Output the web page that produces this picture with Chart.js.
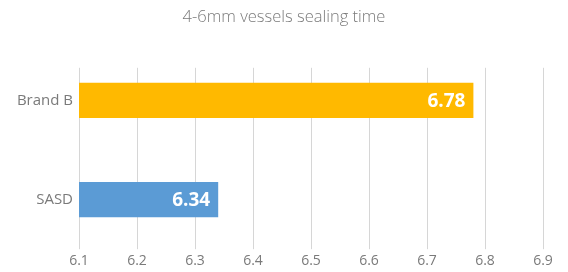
<!DOCTYPE html>
<html>
<head>
<meta charset="utf-8">
<script src="https://cdn.jsdelivr.net/npm/chart.js@4"></script>
<style>
  html, body { margin: 0; padding: 0; background: #fff; }
  #wrap { width: 568px; height: 272px; }
</style>
</head>
<body>
<div id="wrap"><canvas id="chart"></canvas></div>
<script>
const categories = ['Brand B', 'SASD'];
const sealingTimes = [6.78, 6.34];
const barColors = ['#FFB900', '#5B9BD5'];
const xTicks = [6.1, 6.2, 6.3, 6.4, 6.5, 6.6, 6.7, 6.8, 6.9];

const fontFamily = "'Open Sans', Lato, sans-serif";
const textColor = '#7a7a7a';

// vertical gridlines, starting a bit below the title like the original
const gridPlugin = {
  id: 'gridLines',
  beforeDatasetsDraw(chart) {
    const { ctx, chartArea, scales } = chart;
    ctx.save();
    ctx.strokeStyle = '#d6d6d6';
    ctx.lineWidth = 1;
    xTicks.forEach(v => {
      const x = Math.round(scales.x.getPixelForValue(v)) + 0.5;
      ctx.beginPath();
      ctx.moveTo(x, chartArea.top + 17);
      ctx.lineTo(x, chartArea.bottom);
      ctx.stroke();
    });
    ctx.restore();
  }
};

// value labels inside the end of each bar
const valueLabels = {
  id: 'valueLabels',
  afterDatasetsDraw(chart) {
    const { ctx } = chart;
    const meta = chart.getDatasetMeta(0);
    ctx.save();
    ctx.fillStyle = '#ffffff';
    ctx.font = "bold 19px " + fontFamily;
    ctx.textAlign = 'right';
    ctx.textBaseline = 'middle';
    meta.data.forEach((bar, i) => {
      ctx.fillText(sealingTimes[i].toFixed(2), bar.x - 8, bar.y + 1);
    });
    ctx.restore();
  }
};

new Chart(document.getElementById('chart').getContext('2d'), {
  type: 'bar',
  data: {
    labels: categories,
    datasets: [{
      data: sealingTimes,
      backgroundColor: barColors,
      borderWidth: 0,
      barPercentage: 0.355,
      categoryPercentage: 1
    }]
  },
  options: {
    indexAxis: 'y',
    responsive: true,
    maintainAspectRatio: false,
    animation: false,
    layout: { padding: 0 },
    plugins: {
      legend: { display: false },
      tooltip: { enabled: false },
      title: {
        display: true,
        text: '4-6mm vessels sealing time',
        color: textColor,
        font: { size: 16.5, weight: 300, family: fontFamily },
        padding: { top: 7, bottom: 24 }
      }
    },
    scales: {
      x: {
        min: 6.1,
        max: 6.9,
        afterBuildTicks: scale => { scale.ticks = xTicks.map(v => ({ value: v })); },
        afterFit: scale => { scale.paddingRight = 25; },
        grid: { display: false, drawTicks: false },
        border: { display: false },
        ticks: {
          color: textColor,
          font: { size: 14, family: fontFamily },
          padding: 3,
          callback: v => v.toFixed(1)
        }
      },
      y: {
        afterFit: scale => { scale.width = 79; },
        grid: { display: false, drawTicks: false },
        border: { display: false },
        ticks: {
          color: textColor,
          font: { size: 15, family: fontFamily },
          padding: 6
        }
      }
    }
  },
  plugins: [gridPlugin, valueLabels]
});
</script>
</body>
</html>
